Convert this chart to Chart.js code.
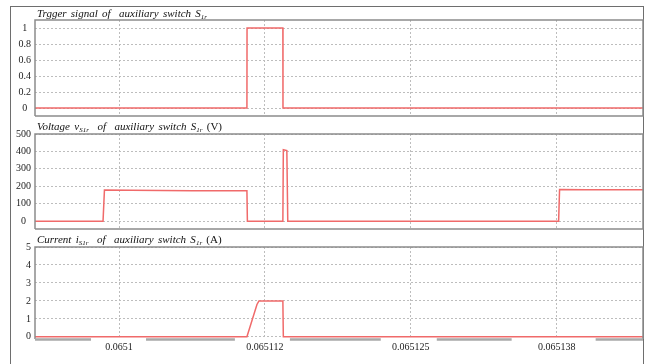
<!DOCTYPE html>
<html>
<head>
<meta charset="utf-8">
<script src="https://cdn.jsdelivr.net/npm/chart.js@4.4.1/dist/chart.umd.min.js"></script>
<style>
html, body { margin: 0; padding: 0; background: #fff; }
#wrap { position: relative; width: 651px; height: 364px; overflow: hidden; }
#frame { position: absolute; left: 10px; top: 6px; width: 634px; height: 380px; border: 1px solid #6e6e6e; border-bottom: none; box-sizing: border-box; }
canvas { position: absolute; left: 0; top: 0; }
.ttl { position: absolute; left: 37px; font: italic 11px "Liberation Serif", serif; word-spacing: 1.5px; color: #111; line-height: 14px; white-space: nowrap; }
.ttl sub { font-size: 7px; line-height: 0; vertical-align: -2px; }
.ttl .u { font-style: normal; }
</style>
</head>
<body>
<div id="wrap">
  <div id="frame"></div>
  <canvas id="c1" width="651" height="364"></canvas>
  <canvas id="c2" width="651" height="364"></canvas>
  <canvas id="c3" width="651" height="364"></canvas>
  <div class="ttl" style="top:6px">Trgger signal of &nbsp;auxiliary switch S<sub>1r</sub></div>
  <div class="ttl" style="top:119px">Voltage v<sub>S1r</sub> &nbsp;of &nbsp;auxiliary switch S<sub>1r</sub> <span class="u">(V)</span></div>
  <div class="ttl" style="top:232px">Current i<sub>S1r</sub> &nbsp;of &nbsp;auxiliary switch S<sub>1r</sub> <span class="u">(A)</span></div>
</div>
<script>
// time axis (s)
const tMin = 0.0650928;
const tMax = 0.0651449;
const xTicks = [0.0651, 0.0651125, 0.065125, 0.0651375];
const xTickLabels = ['0.0651', '0.065112', '0.065125', '0.065138'];

// trigger signal of S1r
const trigT = [tMin, 0.06511096, 0.06511097, 0.06511404, 0.06511405, tMax];
const trigV = [0, 0, 1, 1, 0, 0];
const trigTicks = [0, 0.2, 0.4, 0.6, 0.8, 1];

// voltage vS1r (V)
const voltT = [tMin, 0.06509863, 0.06509875, 0.06510103, 0.06510625, 0.06511096, 0.06511100,
  0.06511404, 0.06511408, 0.06511438, 0.06511446, 0.06513767, 0.06513775, 0.06514007, tMax];
const voltV = [0, 0, 178, 177, 175, 175, 0, 0, 410, 405, 0, 0, 181, 180, 180];
const voltTicks = [0, 100, 200, 300, 400, 500];

// current iS1r (A)
const currT = [tMin, 0.06511096, 0.06511182, 0.06511199, 0.06511404, 0.06511408, tMax];
const currV = [0, 0, 1.8, 2.0, 2.0, 0, 0];
const currTicks = [0, 1, 2, 3, 4, 5];

const lineColor = '#f06a6a';
const gridColor = '#bdbdbd';
const tickFont = { family: 'Liberation Serif', size: 10 };

const boxPlugin = {
  id: 'box',
  afterDatasetsDraw(chart, args, o) {
    const { ctx, chartArea: a } = chart;
    ctx.save();
    ctx.strokeStyle = '#8c8c8c';
    ctx.lineWidth = 1.5;
    ctx.beginPath();
    ctx.moveTo(a.left, a.bottom);
    ctx.lineTo(a.left, a.top);
    ctx.lineTo(a.right, a.top);
    ctx.lineTo(a.right, a.bottom);
    if (!o.broken) ctx.lineTo(a.left, a.bottom);
    ctx.stroke();
    if (o.broken) {
      // bottom axis bar, interrupted around each tick label
      const gaps = [[28, 27], [30, 25], [30, 26], [45, 39]];
      const xs = chart.scales.x;
      let start = a.left;
      ctx.strokeStyle = '#a9a9a9';
      ctx.lineWidth = 2.5;
      ctx.beginPath();
      xTicks.forEach((v, i) => {
        const p = xs.getPixelForValue(v);
        ctx.moveTo(start, a.bottom + 0.5);
        ctx.lineTo(p - gaps[i][0], a.bottom + 0.5);
        start = p + gaps[i][1];
      });
      ctx.moveTo(start, a.bottom + 0.5);
      ctx.lineTo(a.right, a.bottom + 0.5);
      ctx.stroke();
    }
    ctx.restore();
  }
};

function makeChart(id, ts, vs, yTicks, yMin, yMax, padTop, padBottom, xHeight, showX) {
  const pts = ts.map((t, i) => ({ x: t, y: vs[i] }));
  return new Chart(document.getElementById(id), {
    type: 'line',
    data: {
      datasets: [{
        data: pts,
        borderColor: lineColor,
        borderWidth: 1.5,
        pointRadius: 0,
        tension: 0,
        fill: false
      }]
    },
    options: {
      responsive: false,
      animation: false,
      devicePixelRatio: 1,
      layout: { padding: { left: 0, right: 8, top: padTop, bottom: padBottom } },
      plugins: { legend: { display: false }, tooltip: { enabled: false }, box: { broken: showX } },
      scales: {
        x: {
          type: 'linear',
          min: tMin,
          max: tMax,
          afterBuildTicks: s => { s.ticks = xTicks.map(v => ({ value: v })); },
          afterFit: s => { s.height = xHeight; },
          grid: { color: gridColor, lineWidth: 1, drawTicks: false },
          border: { display: false, dash: [2, 2] },
          ticks: {
            display: showX,
            maxRotation: 0,
            autoSkip: false,
            padding: 2,
            color: '#222',
            font: tickFont,
            callback: (v, i) => xTickLabels[i]
          }
        },
        y: {
          min: yMin,
          max: yMax,
          afterBuildTicks: s => { s.ticks = yTicks.map(v => ({ value: v })); },
          afterFit: s => { s.width = 35; },
          grid: { color: gridColor, lineWidth: 1, drawTicks: false },
          border: { display: false, dash: [2, 2] },
          ticks: {
            crossAlign: 'center',
            padding: 4,
            color: '#222',
            font: tickFont,
            callback: v => String(v)
          }
        }
      }
    },
    plugins: [boxPlugin]
  });
}

makeChart('c1', trigT, trigV, trigTicks, -0.1, 1.1, 20, 248, 0, false);
makeChart('c2', voltT, voltV, voltTicks, -45, 500, 134, 135, 0, false);
makeChart('c3', currT, currV, currTicks, -0.12, 5, 247, 0, 25, true);
</script>
</body>
</html>
